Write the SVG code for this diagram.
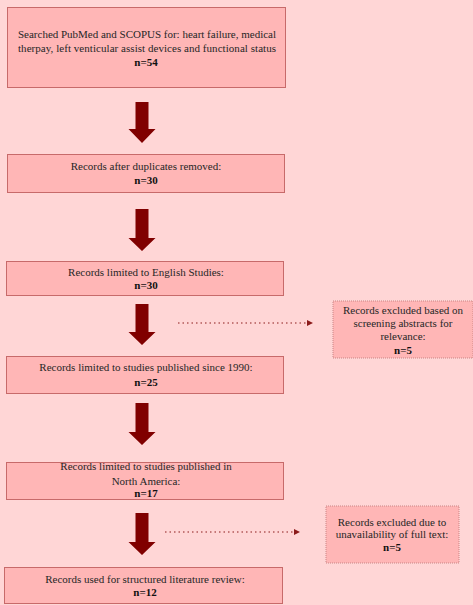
<svg xmlns="http://www.w3.org/2000/svg" width="473" height="605" viewBox="0 0 473 605">
<style>
.box{fill:#FFB6B6;stroke:#C76A6A;stroke-width:1}
.side{fill:#FFB6B6;stroke:#C98585;stroke-width:1;stroke-dasharray:1 1}
.t{font-family:"Liberation Serif","Times New Roman",serif;font-size:11px;fill:#262626;text-anchor:middle}
.b{font-weight:bold;fill:#111}
.arr{fill:#800000}
.dot{stroke:#8B1A1A;stroke-width:1.2;stroke-dasharray:1.5 3;fill:none}
</style>
<defs>
<marker id="ah" markerWidth="6" markerHeight="6" refX="6" refY="3" orient="auto" markerUnits="userSpaceOnUse">
<path d="M0,0 L6,3 L0,6 Z" fill="#8B1A1A"/>
</marker>
</defs>
<rect x="0" y="0" width="473" height="605" fill="#FFD6D6"/>
<g id="n1">
<rect class="box" x="7.5" y="7.5" width="278" height="80"/>
<text class="t" x="147" y="38" textLength="258" lengthAdjust="spacing">Searched PubMed and SCOPUS for: heart failure, medical</text>
<text class="t" x="147" y="52" textLength="258" lengthAdjust="spacing">therpay, left venticular assist devices and functional status</text>
<text class="t b" x="146" y="66">n=54</text>
</g>
<g id="n2">
<rect class="box" x="7.5" y="154.5" width="277" height="38"/>
<text class="t" x="146" y="170">Records after duplicates removed:</text>
<text class="t b" x="146" y="184">n=30</text>
</g>
<g id="n3">
<rect class="box" x="6.5" y="261.5" width="277" height="34"/>
<text class="t" x="146" y="276">Records limited to English Studies:</text>
<text class="t b" x="146" y="289">n=30</text>
</g>
<g id="n4">
<rect class="box" x="6.5" y="356.5" width="277" height="37"/>
<text class="t" x="146" y="371">Records limited to studies published since 1990:</text>
<text class="t b" x="146" y="386">n=25</text>
</g>
<g id="n5">
<rect class="box" x="6.5" y="462.5" width="277" height="37"/>
<text class="t" x="146" y="470">Records limited to studies published in</text>
<text class="t" x="146" y="485">North America:</text>
<text class="t b" x="146" y="497">n=17</text>
</g>
<g id="n6">
<rect class="box" x="4.5" y="567.5" width="278" height="36"/>
<text class="t" x="145" y="583">Records used for structured literature review:</text>
<text class="t b" x="145" y="596">n=12</text>
</g>
<g id="s1">
<rect class="side" x="333" y="301" width="140" height="57"/>
<text class="t" x="403" y="314">Records excluded based on</text>
<text class="t" x="403" y="327">screening abstracts for</text>
<text class="t" x="403" y="340">relevance:</text>
<text class="t b" x="403" y="354">n=5</text>
</g>
<g id="s2">
<rect class="side" x="326" y="506" width="133" height="57"/>
<text class="t" x="392" y="526">Records excluded due to</text>
<text class="t" x="392" y="538">unavailability of full text:</text>
<text class="t b" x="392" y="551">n=5</text>
</g>
<g id="connectors">
<path class="arr" d="M135.5,102 H148.5 V129 H155.5 L142,143 L128.5,129 H135.5 Z"/>
<path class="arr" d="M135.5,209 H148.5 V238 H155.5 L142,251 L128.5,238 H135.5 Z"/>
<path class="arr" d="M135.5,304 H148.5 V332 H155.5 L142,345 L128.5,332 H135.5 Z"/>
<path class="arr" d="M135.5,403 H148.5 V432 H155.5 L142,445 L128.5,432 H135.5 Z"/>
<path class="arr" d="M135.5,513 H148.5 V542 H155.5 L142,555 L128.5,542 H135.5 Z"/>
<path class="dot" d="M178,323 H313" marker-end="url(#ah)"/>
<path class="dot" d="M165,532 H300" marker-end="url(#ah)"/>
</g>
</svg>
